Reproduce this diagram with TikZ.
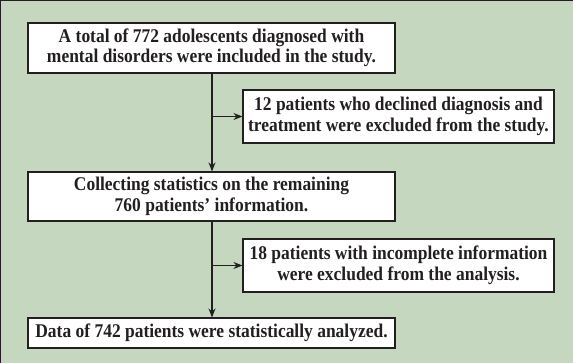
\documentclass[tikz,border=0pt]{standalone}
\usepackage{fontspec}
\setmainfont{Liberation Serif}[FakeStretch=0.9]
\usetikzlibrary{arrows.meta}
\definecolor{bg}{HTML}{C5D8BF}
\definecolor{ln}{HTML}{231F20}
\begin{document}
\begin{tikzpicture}[x=1pt,y=1pt,
  box/.style={draw=ln,line width=1.1pt,fill=white,align=center,inner sep=0pt,
    font=\fontsize{19.4}{20.5}\selectfont\bfseries,text=ln},
  arr/.style={draw=ln,line width=1.1pt,-{Stealth[length=9pt,width=7pt]}}]
\fill[bg] (0,0) rectangle (573,363);
\useasboundingbox (0,0) rectangle (573,363);
\draw[ln,line width=1.2pt] (0,0) -- (0,362.4) -- (573,362.4);
\node[box,minimum width=367pt,minimum height=50pt] (b1) at (211.5,315) {A total of 772 adolescents diagnosed with\\mental disorders were included in the study.};
\node[box,minimum width=311pt,minimum height=53pt] (b2) at (398.5,246.5) {12 patients who declined diagnosis and\\treatment were excluded from the study.};
\node[box,minimum width=367pt,minimum height=49pt] (b3) at (211.5,166.5) {Collecting statistics on the remaining\\760 patients' information.};
\node[box,minimum width=311pt,minimum height=53pt] (b4) at (398.5,97.5) {18 patients with incomplete information\\were excluded from the analysis.};
\node[box,minimum width=367pt,minimum height=30pt] (b5) at (211.5,30) {Data of 742 patients were statistically analyzed.};
\coordinate (j1) at (212,0|-b2.west);
\coordinate (j2) at (212,0|-b4.west);
\draw[arr] (b1.south-|j1) -- (b3.north-|j1);
\draw[arr] (j1) -- (b2.west);
\draw[arr] (b3.south-|j2) -- (b5.north-|j2);
\draw[arr] (j2) -- (b4.west);
\end{tikzpicture}
\end{document}
